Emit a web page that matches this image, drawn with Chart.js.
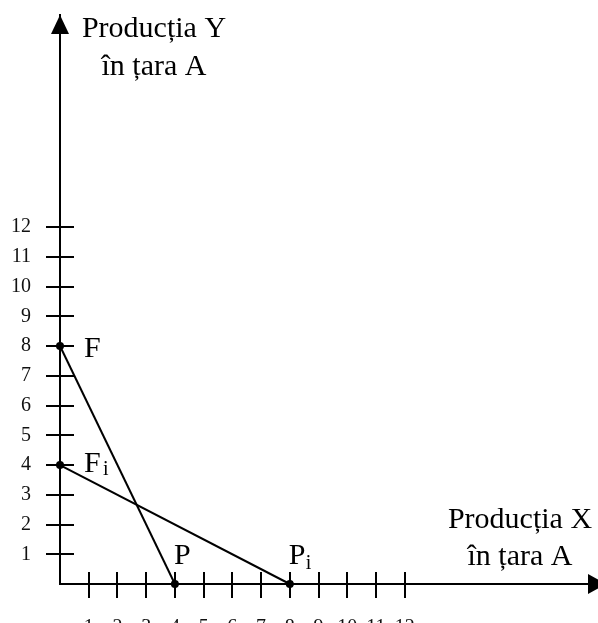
<!DOCTYPE html>
<html>
<head>
<meta charset="utf-8">
<script src="https://cdn.jsdelivr.net/npm/chart.js@4"></script>
<style>
  html, body { margin: 0; padding: 0; background: #fff; }
  #wrap { width: 598px; height: 623px; }
</style>
</head>
<body>
<div id="wrap"><canvas id="chart" width="598" height="623"></canvas></div>
<script>
// values
const xTicks = [1, 2, 3, 4, 5, 6, 7, 8, 9, 10, 11, 12];
const yTicks = [1, 2, 3, 4, 5, 6, 7, 8, 9, 10, 11, 12];
const lineFX = [0, 4];   // F -> P
const lineFY = [8, 0];
const lineFiX = [0, 8];  // Fi -> Pi
const lineFiY = [4, 0];
const titleY = ['Producția Y', 'în țara A'];
const titleX = ['Producția X', 'în țara A'];

const serif = '"Liberation Serif", "Times New Roman", serif';

function toPoints(xs, ys) {
    return xs.map((x, i) => ({ x: x, y: ys[i] }));
}

const dsStyle = {
    showLine: true,
    borderColor: '#000',
    borderWidth: 2,
    pointRadius: 4,
    pointBackgroundColor: '#000',
    pointBorderWidth: 0,
    clip: false
};

// cross ticks, arrows and the text labels
const decor = {
    id: 'decor',
    afterDraw(chart) {
        const ctx = chart.ctx;
        const xs = chart.scales.x, ys = chart.scales.y;
        const ox = xs.getPixelForValue(0), oy = ys.getPixelForValue(0);
        ctx.save();
        ctx.strokeStyle = '#000';
        ctx.fillStyle = '#000';
        ctx.lineWidth = 2;
        ctx.beginPath();
        yTicks.forEach(v => {
            const py = Math.round(ys.getPixelForValue(v));
            ctx.moveTo(ox - 14, py);
            ctx.lineTo(ox + 14, py);
        });
        xTicks.forEach(v => {
            const px = Math.round(xs.getPixelForValue(v));
            ctx.moveTo(px, oy - 12);
            ctx.lineTo(px, oy + 14);
        });
        // run the x axis out to the canvas edge
        ctx.moveTo(chart.chartArea.right, oy);
        ctx.lineTo(chart.width, oy);
        ctx.stroke();

        // arrow heads
        const top = chart.chartArea.top;
        ctx.beginPath();
        ctx.moveTo(ox, top);
        ctx.lineTo(ox - 9, top + 19);
        ctx.lineTo(ox + 9, top + 19);
        ctx.closePath();
        ctx.fill();
        const tip = chart.width + 8;
        ctx.beginPath();
        ctx.moveTo(tip, oy);
        ctx.lineTo(tip - 18, oy - 10);
        ctx.lineTo(tip - 18, oy + 10);
        ctx.closePath();
        ctx.fill();

        // axis titles
        ctx.textAlign = 'center';
        ctx.textBaseline = 'alphabetic';
        ctx.font = '30px ' + serif;
        ctx.fillText(titleY[0], 154, 37);
        ctx.fillText(titleY[1], 154, 75);
        ctx.fillText(titleX[0], 520, 528);
        ctx.fillText(titleX[1], 520, 565);

        // point labels
        ctx.textAlign = 'left';
        const F = [xs.getPixelForValue(lineFX[0]), ys.getPixelForValue(lineFY[0])];
        const P = [xs.getPixelForValue(lineFX[1]), ys.getPixelForValue(lineFY[1])];
        const Fi = [xs.getPixelForValue(lineFiX[0]), ys.getPixelForValue(lineFiY[0])];
        const Pi = [xs.getPixelForValue(lineFiX[1]), ys.getPixelForValue(lineFiY[1])];
        ctx.font = '30px ' + serif;
        ctx.fillText('F', F[0] + 24, F[1] + 11);
        ctx.fillText('F', Fi[0] + 24, Fi[1] + 7);
        ctx.fillText('P', P[0] - 1, P[1] - 20);
        ctx.fillText('P', Pi[0] - 1, Pi[1] - 20);
        ctx.font = '20px ' + serif;
        ctx.fillText('i', Fi[0] + 43, Fi[1] + 10);
        ctx.fillText('i', Pi[0] + 16, Pi[1] - 15);
        ctx.restore();
    }
};

new Chart(document.getElementById('chart'), {
    type: 'scatter',
    data: {
        datasets: [
            Object.assign({ data: toPoints(lineFX, lineFY) }, dsStyle),
            Object.assign({ data: toPoints(lineFiX, lineFiY) }, dsStyle)
        ]
    },
    options: {
        responsive: false,
        animation: false,
        layout: { padding: { top: 15, left: 0, right: 0, bottom: 0 } },
        plugins: { legend: { display: false }, tooltip: { enabled: false } },
        scales: {
            x: {
                type: 'linear',
                min: 0,
                max: 18.59,
                grid: { display: false, drawTicks: false },
                border: { display: true, color: '#000', width: 2 },
                afterBuildTicks: s => { s.ticks = xTicks.map(v => ({ value: v })); },
                afterFit: s => { s.height = 39; s.paddingLeft = 0; s.paddingRight = 0; },
                ticks: {
                    padding: 32,
                    maxRotation: 0,
                    autoSkip: false,
                    color: '#111',
                    font: { family: serif, size: 20 },
                    callback: v => String(v)
                }
            },
            y: {
                type: 'linear',
                min: 0,
                max: 19.13,
                grid: { display: false, drawTicks: false },
                border: { display: true, color: '#000', width: 2 },
                afterBuildTicks: s => { s.ticks = yTicks.map(v => ({ value: v })); },
                afterFit: s => { s.width = 60; s.paddingTop = 0; s.paddingBottom = 0; },
                ticks: {
                    padding: 29,
                    autoSkip: false,
                    color: '#111',
                    font: { family: serif, size: 20 },
                    callback: v => String(v)
                }
            }
        }
    },
    plugins: [decor]
});
</script>
</body>
</html>
